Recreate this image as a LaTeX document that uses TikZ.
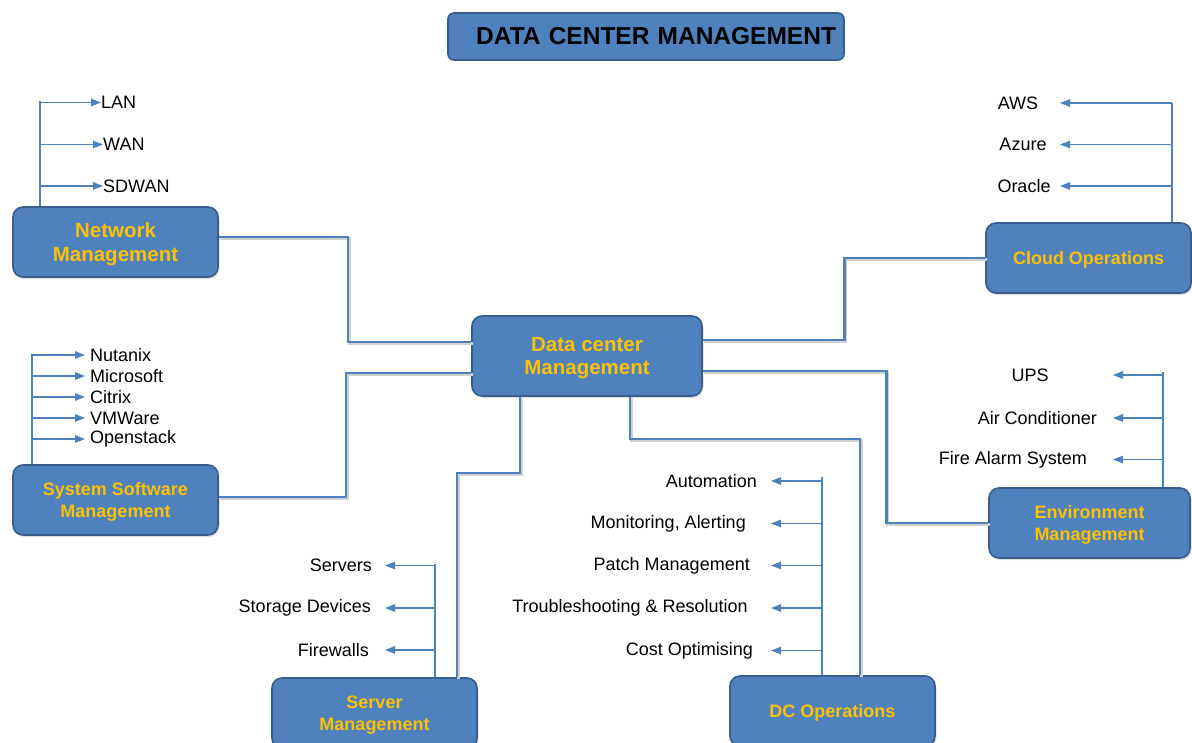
\documentclass[tikz,border=0pt]{standalone}
\usepackage{fontspec}
\setmainfont{Liberation Sans}
\usetikzlibrary{arrows.meta,shadows}
\definecolor{boxblue}{HTML}{4F81BD}
\definecolor{boxedge}{HTML}{385D8A}
\definecolor{boxtext}{HTML}{FFC000}
\tikzset{
  mgmt/.style={draw=boxedge, line width=1.6pt, fill=boxblue, rounded corners=10pt,
    minimum width=205pt, minimum height=70pt, align=center, text=boxtext,
    text depth=0pt, font=\fontsize{18}{21.5}\selectfont\bfseries,
    drop shadow={opacity=0.25, shadow xshift=1.5pt, shadow yshift=-2pt}},
  bigmgmt/.style={mgmt, font=\fontsize{20.5}{23.5}\selectfont\bfseries},
  titlebox/.style={draw=boxedge, line width=1.6pt, fill=boxblue, rounded corners=6pt,
    minimum height=47pt, text width=380pt, align=right, inner xsep=8pt,
    font=\fontsize{24.5}{28}\selectfont\bfseries},
  link/.style={draw=boxblue, line width=2.6pt,
    preaction={draw=black!18, line width=2.6pt, transform canvas={xshift=1.5pt, yshift=-1.5pt}}},
  trunk/.style={draw=boxblue, line width=1.1pt},
  sub/.style={draw=boxblue, line width=1.1pt, -{Triangle[length=10pt,width=7.5pt]}},
  item/.style={inner sep=0pt, font=\fontsize{18}{21}\selectfont},
}
\begin{document}
\begin{tikzpicture}[x=1pt, y=1pt]
  \useasboundingbox (0,0) rectangle (1192,-742);
  \clip (0,0) rectangle (1192,-742);

  % title
  \node[titlebox] (title) at (646,-36.5) {DATA CENTER MANAGEMENT};

  % main boxes
  \node[bigmgmt, minimum width=230pt, minimum height=80pt] (dcm) at (587,-356) {Data center\\Management};
  \node[bigmgmt] (net) at (115.5,-242) {Network\\Management};
  \node[mgmt] (sys) at (115.5,-500) {System Software\\Management};
  \node[mgmt] (cloud) at (1088.5,-258) {Cloud Operations};
  \node[mgmt, minimum width=201pt] (env) at (1089.5,-523) {Environment\\Management};
  \node[mgmt] (srv) at (374.5,-713) {Server\\Management};
  \node[mgmt] (dco) at (832.5,-711) {DC Operations};

  % links to the centre
  \draw[link] ([yshift=5pt]net.east) -- ++(129,0) |- ([yshift=14pt]dcm.west);
  \draw[link] ([yshift=3pt]sys.east) -- ++(127,0) |- ([yshift=-17pt]dcm.west);
  \draw[link] (cloud.west) -- ++(-141,0) |- ([yshift=16pt]dcm.east);
  \draw[link] (env.west) -- ++(-102,0) |- ([yshift=-15pt]dcm.east);
  \draw[link] ([xshift=-67pt]dcm.south) -- ++(0,-76) -| ([xshift=82.5pt]srv.north);
  \draw[link] ([xshift=43pt]dcm.south) -- ++(0,-42) -| ([xshift=27.5pt]dco.north);

  % network
  \node[item, anchor=west] (lan) at (101,-102.5) {LAN};
  \node[item, anchor=west] (wan) at (103,-144.5) {WAN};
  \node[item, anchor=west] (sdwan) at (103,-186) {SDWAN};
  \coordinate (nettop) at (40,-101);
  \draw[trunk] (nettop) -- (nettop |- net.north);
  \foreach \n in {lan,wan,sdwan}
    \draw[sub] (nettop |- \n.west) -- (\n.west);

  % system software
  \node[item, anchor=west] (nutanix) at (90,-355) {Nutanix};
  \node[item, anchor=west] (microsoft) at (90,-376) {Microsoft};
  \node[item, anchor=west] (citrix) at (90,-397) {Citrix};
  \node[item, anchor=west] (vmware) at (90,-418) {VMWare};
  \node[item, anchor=west] (openstack) at (90,-439) {Openstack};
  \coordinate (systop) at (32,-354);
  \draw[trunk] (systop) -- (systop |- sys.north);
  \foreach \n in {nutanix,microsoft,citrix,vmware,openstack}
    \draw[sub, shorten >=5pt] (systop |- \n.west) -- (\n.west);

  % cloud
  \node[item] (aws) at (1018,-103) {AWS};
  \node[item] (azure) at (1023,-144.5) {Azure};
  \node[item] (oracle) at (1024,-186) {Oracle};
  \coordinate (cloudtop) at (1172,-103);
  \coordinate (cloudtip) at (1060,-103);
  \draw[trunk] (cloudtop) -- (cloudtop |- cloud.north);
  \foreach \n in {aws,azure,oracle}
    \draw[sub] (cloudtop |- \n) -- (cloudtip |- \n);

  % environment
  \node[item] (ups) at (1030,-375) {UPS};
  \node[item, anchor=east] (aircon) at (1097,-418) {Air Conditioner};
  \node[item, anchor=east] (firealarm) at (1087,-459.5) {Fire Alarm System};
  \coordinate (envtop) at (1163,-372);
  \coordinate (envtip) at (1113,-372);
  \draw[trunk] (envtop) -- (envtop |- env.north);
  \foreach \n in {ups,aircon,firealarm}
    \draw[sub] (envtop |- \n) -- (envtip |- \n);

  % servers
  \node[item, anchor=east] (servers) at (372,-565.5) {Servers};
  \node[item, anchor=east] (storage) at (371,-608) {Storage Devices};
  \node[item, anchor=east] (firewalls) at (369,-650) {Firewalls};
  \coordinate (srvtop) at (435,-564);
  \coordinate (srvtip) at (385,-564);
  \draw[trunk] (srvtop) -- (srvtop |- srv.north);
  \foreach \n in {servers,storage,firewalls}
    \draw[sub] (srvtop |- \n) -- (srvtip |- \n);

  % dc operations
  \node[item, anchor=east] (automation) at (757,-481) {Automation};
  \node[item, anchor=east] (monitoring) at (746,-523.5) {Monitoring, Alerting};
  \node[item, anchor=east] (patch) at (750,-565.5) {Patch Management};
  \node[item, anchor=east] (trouble) at (748,-608) {Troubleshooting \& Resolution};
  \node[item, anchor=east] (cost) at (753,-650.5) {Cost Optimising};
  \coordinate (dcotop) at (822,-477);
  \coordinate (dcotip) at (771,-477);
  \draw[trunk] (dcotop) -- (dcotop |- dco.north);
  \foreach \n in {automation,monitoring,patch,trouble,cost}
    \draw[sub] (dcotop |- \n) -- (dcotip |- \n);
\end{tikzpicture}
\end{document}
